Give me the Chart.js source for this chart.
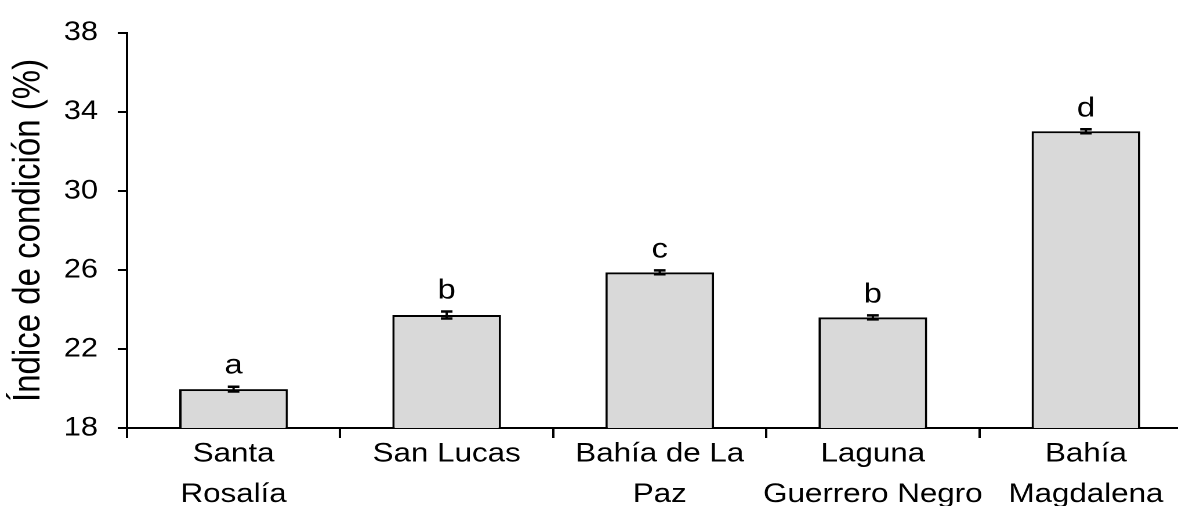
<!DOCTYPE html>
<html>
<head>
<meta charset="utf-8">
<script src="https://cdn.jsdelivr.net/npm/chart.js@4.4.1/dist/chart.umd.min.js"></script>
<style>
  html, body { margin: 0; padding: 0; background: #ffffff; overflow: hidden; }
  #wrap { width: 1178px; height: 506px; overflow: hidden; position: relative; }
  /* the figure is laid out narrow and widened on screen, as in the original export */
  #chart { display: block; transform-origin: 0 0; transform: scaleX(1.16); }
</style>
</head>
<body>
<div id="wrap"><canvas id="chart" width="1028" height="506"></canvas></div>
<script>
// Sampling sites along the peninsula
const categories = [
  ["Santa", "Rosalía"],
  ["San Lucas"],
  ["Bahía de La", "Paz"],
  ["Laguna", "Guerrero Negro"],
  ["Bahía", "Magdalena"]
];
// Mean condition index (%) per site
const meanValues = [19.97, 23.72, 25.88, 23.60, 33.02];
// Standard error of each mean
const stdErrors = [0.12, 0.18, 0.10, 0.10, 0.10];
// Significance groups
const groupLetters = ["a", "b", "c", "b", "d"];
// Value axis
const yMin = 18;
const yMax = 38;
const yStep = 4;
const yTitle = "Índice de condición (%)";

const FONT = "'Liberation Sans', Arial, sans-serif";

// Error bars and group letters drawn on top of each bar
const errorBarPlugin = {
  id: "errorBars",
  afterDatasetsDraw(chart) {
    const ctx = chart.ctx;
    const yScale = chart.scales.y;
    const meta = chart.getDatasetMeta(0);
    ctx.save();
    ctx.strokeStyle = "#000";
    ctx.fillStyle = "#000";
    meta.data.forEach((bar, i) => {
      const x = bar.x;
      const hi = yScale.getPixelForValue(meanValues[i] + stdErrors[i]);
      const lo = yScale.getPixelForValue(meanValues[i] - stdErrors[i]);
      ctx.lineWidth = 2;
      ctx.beginPath();
      ctx.moveTo(x, hi);
      ctx.lineTo(x, lo);
      ctx.stroke();
      ctx.lineWidth = 2.5;
      ctx.beginPath();
      ctx.moveTo(x - 5, hi);
      ctx.lineTo(x + 5, hi);
      ctx.moveTo(x - 5, lo);
      ctx.lineTo(x + 5, lo);
      ctx.stroke();
      ctx.font = "28px " + FONT;
      ctx.textAlign = "center";
      ctx.textBaseline = "alphabetic";
      ctx.fillText(groupLetters[i], x, hi - 13);
    });
    ctx.restore();
  }
};

new Chart(document.getElementById("chart"), {
  type: "bar",
  data: {
    labels: categories,
    datasets: [{
      data: meanValues,
      backgroundColor: "#d9d9d9",
      borderColor: "#000000",
      borderWidth: 2,
      borderSkipped: false,
      categoryPercentage: 1.0,
      barPercentage: 0.51
    }]
  },
  options: {
    responsive: false,
    animation: false,
    devicePixelRatio: 2,
    layout: { padding: { top: 27, left: 0, right: 0, bottom: 0 } },
    plugins: {
      legend: { display: false },
      tooltip: { enabled: false }
    },
    scales: {
      x: {
        grid: {
          display: true,
          drawOnChartArea: false,
          offset: true,
          tickLength: 10,
          tickWidth: 2,
          tickColor: "#000"
        },
        border: { display: true, color: "#000", width: 2 },
        ticks: {
          color: "#000",
          font: { family: FONT, size: 27, lineHeight: 1.5 },
          padding: -4,
          maxRotation: 0,
          autoSkip: false
        },
        afterFit(scale) { scale.height = 78; }
      },
      y: {
        min: yMin,
        max: yMax,
        grid: {
          display: true,
          drawOnChartArea: false,
          tickLength: 8,
          tickWidth: 2,
          tickColor: "#000"
        },
        border: { display: true, color: "#000", width: 2 },
        ticks: {
          stepSize: yStep,
          color: "#000",
          padding: 17,
          font: { family: FONT, size: 26.5 }
        },
        title: {
          display: true,
          text: yTitle,
          color: "#000",
          font: { family: FONT, size: 33 },
          padding: { top: 5, bottom: 0 }
        },
        afterFit(scale) { scale.width = 109.5; }
      }
    }
  },
  plugins: [errorBarPlugin]
});
</script>
</body>
</html>
